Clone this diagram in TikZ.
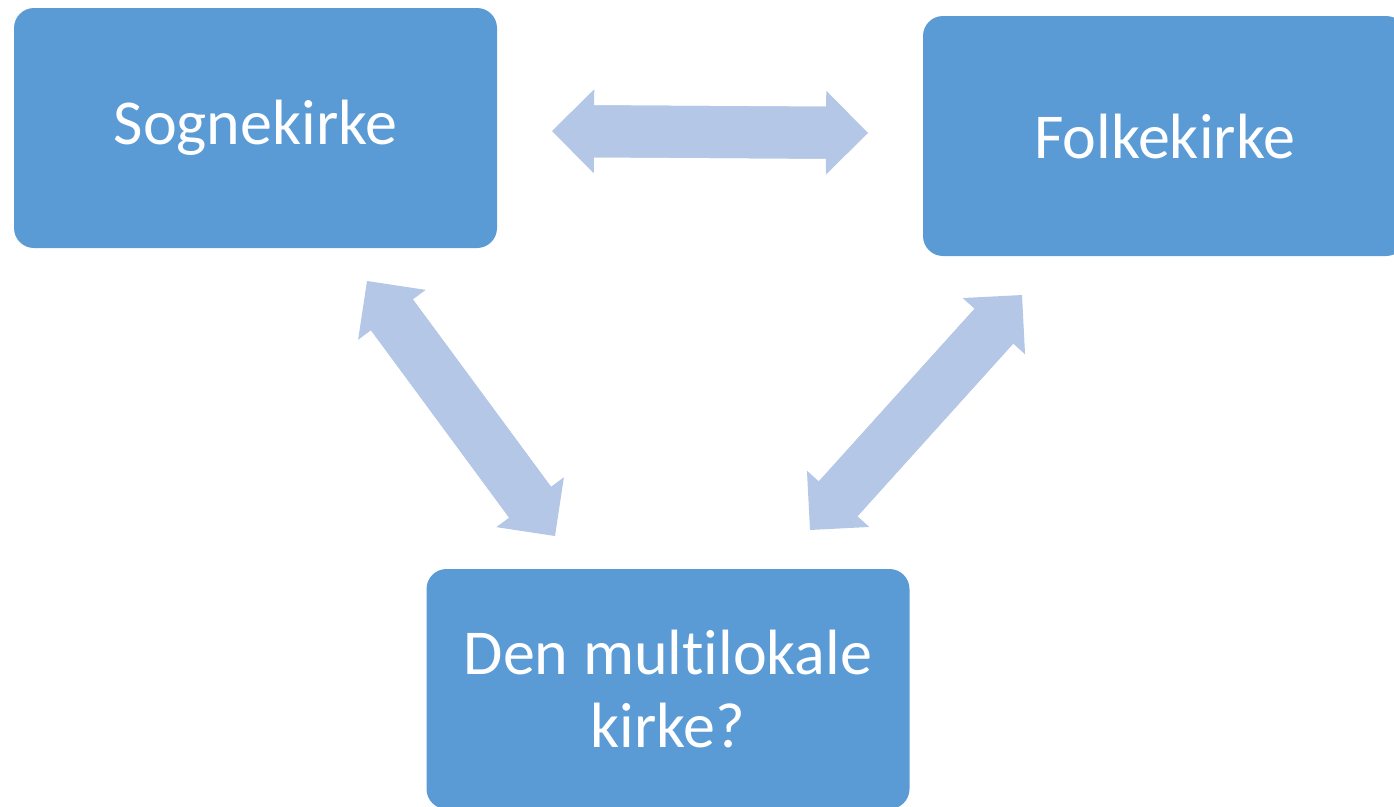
\documentclass[tikz,border=0pt]{standalone}
\usepackage{fontspec}
\setmainfont{Carlito}[Ligatures=NoCommon]
\usetikzlibrary{arrows.meta}
\definecolor{boxblue}{HTML}{5B9BD5}
\definecolor{arrowblue}{HTML}{B4C7E7}
\tikzset{fatTip/.tip={Triangle[length=42pt,width=84pt,line width=0pt]}}
\begin{document}
\begin{tikzpicture}[x=1pt,y=-1pt,
  box/.style={fill=boxblue, rounded corners=20pt, minimum width=483pt, minimum height=240pt,
    text=white, font=\fontsize{64}{73}\selectfont, align=center, inner sep=0pt},
  dbl/.style={draw=arrowblue, line width=52pt, {fatTip}-{fatTip}},
  shaft/.style={draw=arrowblue, line width=52pt, shorten <=30pt, shorten >=30pt}]
\useasboundingbox (0,0) rectangle (1394,806);
\clip (0,0) rectangle (1394,806);
\node[box] (sogn) at (255.5,128) {Sognekirke};
\node[box] (folk) at (1164.5,136) {Folkekirke};
\node[box] (multi) at (668,689) {Den multilokale\\kirke?};
\coordinate (h1) at (552,131);
\coordinate (h2) at (868,133);
\coordinate (l1) at (367,281);
\coordinate (l2) at (555,536);
\coordinate (r1) at (1022,295);
\coordinate (r2) at (810,530);
\draw[dbl] (h1) -- (h2);
\draw[dbl] (l1) -- (l2);
\draw[dbl] (r1) -- (r2);
\draw[shaft] (h1) -- (h2);
\draw[shaft] (l1) -- (l2);
\draw[shaft] (r1) -- (r2);
\end{tikzpicture}
\end{document}
